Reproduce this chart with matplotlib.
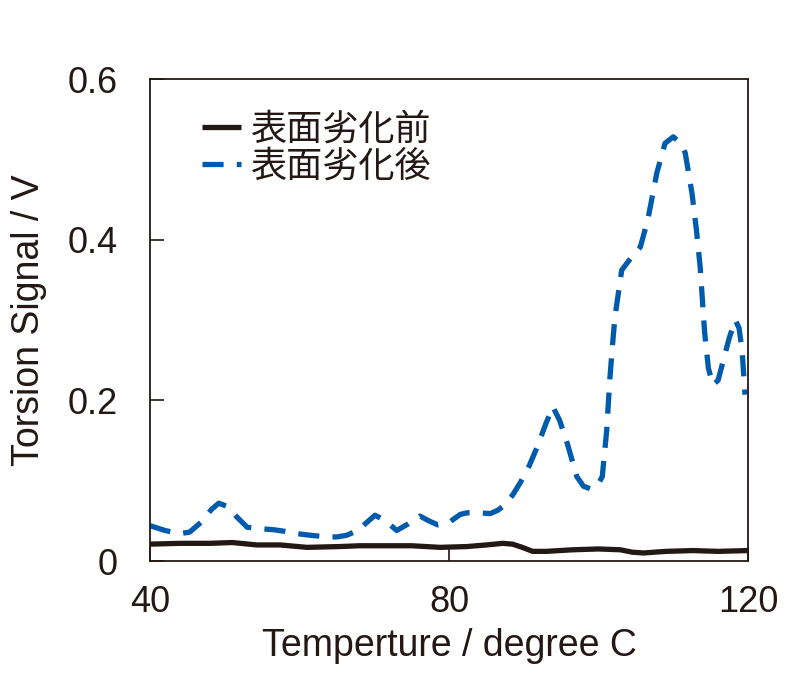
import matplotlib
matplotlib.use("Agg")
import matplotlib.pyplot as plt

# 表面劣化前 (before surface degradation)
temp_before = [40, 44, 48, 51, 54.3, 57.4, 61, 65.4, 68, 72, 75, 78.8, 82.4,
               85, 87.2, 88.5, 89.8, 91.2, 93, 96.6, 100, 102.9, 104.5, 106,
               109, 112.6, 116, 120]
sig_before = [0.021, 0.022, 0.022, 0.023, 0.020, 0.020, 0.017, 0.018, 0.019,
              0.019, 0.019, 0.017, 0.018, 0.020, 0.022, 0.021, 0.017, 0.012,
              0.012, 0.014, 0.015, 0.014, 0.011, 0.010, 0.012, 0.013, 0.012,
              0.013]

# 表面劣化後 (after surface degradation)
temp_after = [40, 42, 44, 45.3, 46.8, 48.2, 49.2, 50.3, 51.6, 53, 55, 56.5,
              58, 59.7, 61.5, 63.7, 65, 66.3, 67.8, 69, 70.1, 71.5, 73, 74.5,
              76.1, 77.3, 78.5, 80, 81.5, 82.4, 84, 85.5, 86.5, 87.5, 88.5,
              89.5, 90.7, 91.8, 93, 93.9, 94.8, 95.8, 97.1, 98, 98.9, 99.8,
              100.5, 101.1, 101.5, 101.9, 102.2, 103.1, 104.4, 105.6, 106.6,
              107.8, 108.9, 110, 111, 111.6, 112.5, 113.1, 113.6, 114.2,
              114.7, 115.3, 116, 116.7, 117.5, 118.3, 118.8, 119.2, 119.6]
sig_after = [0.044, 0.038, 0.034, 0.036, 0.048, 0.064, 0.072, 0.068, 0.055,
             0.042, 0.040, 0.039, 0.037, 0.034, 0.032, 0.030, 0.030, 0.032,
             0.038, 0.048, 0.057, 0.050, 0.038, 0.046, 0.056, 0.050, 0.045,
             0.048, 0.058, 0.060, 0.060, 0.059, 0.063, 0.070, 0.082, 0.097,
             0.118, 0.142, 0.172, 0.192, 0.175, 0.147, 0.105, 0.093, 0.090,
             0.093, 0.105, 0.163, 0.225, 0.272, 0.304, 0.362, 0.378, 0.391,
             0.425, 0.483, 0.520, 0.528, 0.520, 0.508, 0.458, 0.412, 0.366,
             0.284, 0.240, 0.219, 0.225, 0.250, 0.278, 0.300, 0.290, 0.263,
             0.207]

x_ticks = [40, 80, 120]
y_ticks = [0, 0.2, 0.4, 0.6]
y_tick_labels = ["0", "0.2", "0.4", "0.6"]

plt.rcParams['font.family'] = ['Liberation Sans', 'Noto Sans CJK JP', 'DejaVu Sans']
ink = '#231815'

fig = plt.figure(figsize=(7.95, 6.73), dpi=100)
ax = fig.add_axes([0.1887, 0.1664, 0.7522, 0.7162])

ax.plot(temp_before, sig_before, color=ink, lw=3.8, label='表面劣化前',
        solid_capstyle='butt')
ax.plot(temp_after, sig_after, color='#005bac', lw=3.8, dashes=(4.0, 2.5),
        label='表面劣化後')

ax.set_xlim(40, 120)
ax.set_ylim(0, 0.6)
ax.set_xticks(x_ticks)
ax.set_yticks(y_ticks)
ax.set_yticklabels(y_tick_labels)
ax.tick_params(direction='in', length=10, width=1.2, labelsize=26, colors=ink)
ax.tick_params(axis='y', pad=23)
ax.tick_params(axis='x', pad=17)
for s in ax.spines.values():
    s.set_linewidth(1.3)
    s.set_color(ink)

ax.set_xlabel('Temperture / degree C', fontsize=27, color=ink, labelpad=6)
ax.set_ylabel('Torsion Signal / V', fontsize=27, color=ink, labelpad=15)

leg = ax.legend(loc='upper left', bbox_to_anchor=(0.05, 0.975), frameon=False,
                fontsize=26, handlelength=1.1, handletextpad=0.25,
                labelspacing=0.05, borderaxespad=0.2)
for t in leg.get_texts():
    t.set_color(ink)

fig.savefig('out.png', dpi=100)
